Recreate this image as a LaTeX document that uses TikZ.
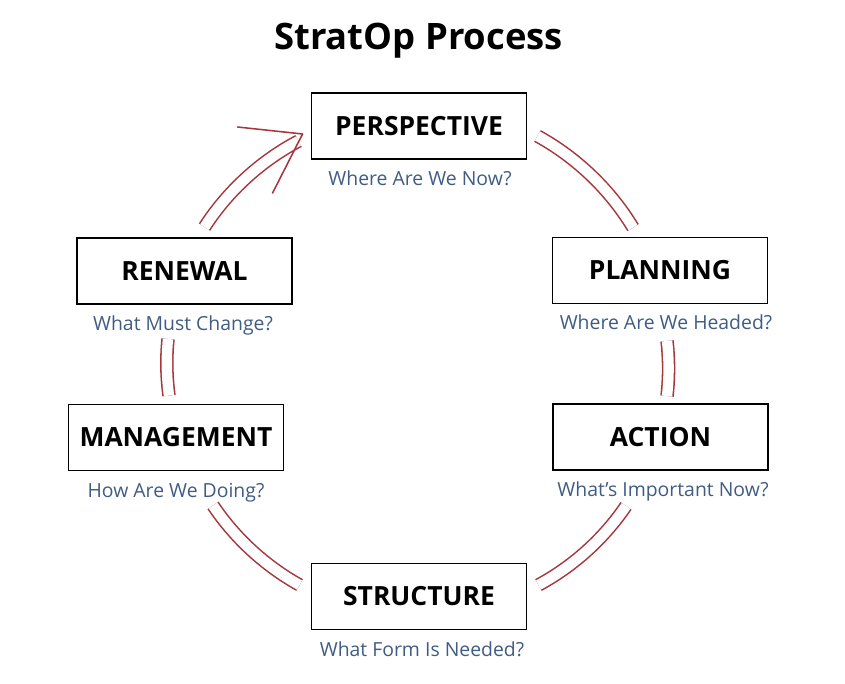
\documentclass[tikz,border=0pt]{standalone}
\usepackage{fontspec}
\setmainfont{Open Sans}
\usepackage{tikz}

\definecolor{arcred}{RGB}{165,55,60}
\definecolor{askblue}{RGB}{64,92,132}

\begin{document}
\begin{tikzpicture}[x=0.025cm,y=0.025cm,
	stage/.style={draw=black,line width=1.3pt,minimum width=5.375cm,minimum height=1.65cm,inner sep=0pt,
		font=\fontsize{18.8}{22}\selectfont\bfseries},
	ask/.style={anchor=base,text=askblue,inner sep=0pt,font=\fontsize{13.8}{16}\selectfont},
	loop/.style={draw=arcred,line width=1.1pt,double=white,double distance=7.4pt,looseness=0.86},
	barb/.style={draw=arcred,line width=1.1pt,line cap=round}]

	\useasboundingbox (0,0) rectangle (845,-683);

	% Title
	\node[anchor=base,inner sep=0pt,font=\fontsize{25.9}{30}\selectfont\bfseries] (title) at (418.5,-50) {StratOp Process};

	% Stages
	\node[stage] (persp) at (419,-126) {PERSPECTIVE};
	\node[stage] (plan) at (660,-270.5) {PLANNING};
	\node[stage] (action) at (660.5,-437) {ACTION};
	\node[stage] (struct) at (419,-596.5) {STRUCTURE};
	\node[stage] (manag) at (176,-437.5) {MANAGEMENT};
	\node[stage] (renew) at (184.5,-271) {RENEWAL};

	% Questions
	\node[ask] (perspq) at (420,-185.5) {Where Are We Now?};
	\node[ask] (planq) at (666,-329.5) {Where Are We Headed?};
	\node[ask] (actionq) at (663,-496.5) {What’s Important Now?};
	\node[ask] (structq) at (422,-656.5) {What Form Is Needed?};
	\node[ask] (managq) at (176,-497.5) {How Are We Doing?};
	\node[ask] (renewq) at (183,-330.5) {What Must Change?};

	% Draw the double arcs round the cycle
	\draw[loop] ([shift={(10,-10)}]persp.east) to[bend left=15] ([shift={(-27,9)}]plan.north);
	\draw[loop] ([shift={(7,-36.5)}]plan.south) to[bend left=6.5] ([shift={(6.5,7)}]action.north);
	\draw[loop] ([shift={(-34.5,-35)}]action.south) to[bend left=13.7] ([shift={(11,11.5)}]struct.east);
	\draw[loop] ([shift={(-11,11.5)}]struct.west) to[bend left=13.5] ([shift={(37,-34)}]manag.south);
	\draw[loop] ([shift={(-7,8)}]manag.north) to[bend left=6.6] ([shift={(-16.5,-34)}]renew.south);
	\draw[loop] ([shift={(20,10)}]renew.north) to[bend left=14.7] ([shift={(-12,-15)}]persp.west);

	% Arrow head
	\coordinate (tip) at ([shift={(-8,-8)}]persp.west);
	\draw[barb] (tip) -- ++(-65,7);
	\draw[barb] (tip) -- ++(-30,-59);
\end{tikzpicture}
\end{document}
